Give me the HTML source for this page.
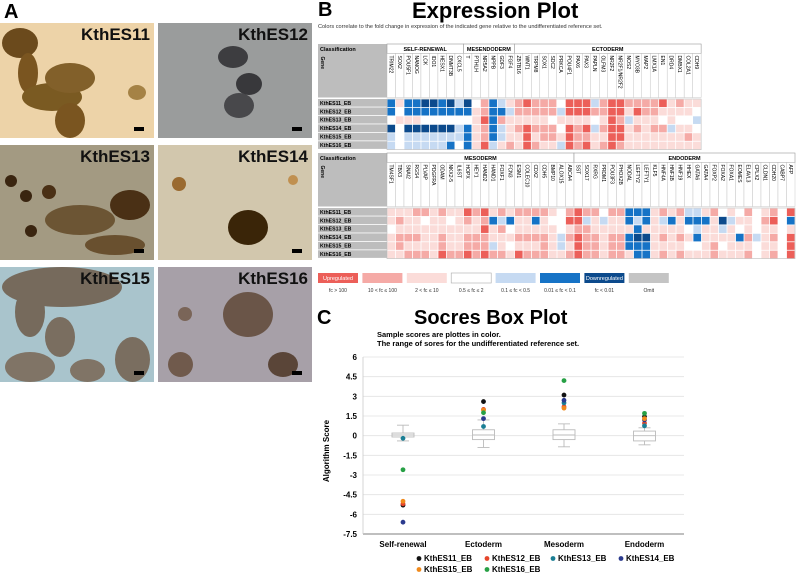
<!DOCTYPE html>
<html><head><meta charset="utf-8"><style>
body{margin:0;width:796px;height:577px;background:#fff;position:relative;overflow:hidden;font-family:"Liberation Sans",sans-serif}
.abs{position:absolute}
.tile{position:absolute;overflow:hidden}
.tl{position:absolute;right:4px;top:2px;font-weight:bold;font-size:17px;color:#111}
.bar{position:absolute;right:10px;bottom:7px;width:10px;height:4px;background:#000}
.blob{position:absolute;border-radius:50%}
</style></head><body>
<div class="abs" style="left:4px;top:1px;font-size:20px;font-weight:bold">A</div>
<div class="tile" style="left:0;top:23px;width:154px;height:115px;background:#edd3a8">
<div class="blob" style="left:2px;top:5px;width:36px;height:30px;background:#6b4a1c"></div>
<div class="blob" style="left:18px;top:30px;width:20px;height:40px;background:#7a5520"></div>
<div class="blob" style="left:22px;top:60px;width:60px;height:28px;background:#7a5a22"></div>
<div class="blob" style="left:45px;top:40px;width:50px;height:30px;background:#82602a"></div>
<div class="blob" style="left:55px;top:80px;width:30px;height:35px;background:#7a5520"></div>
<div class="blob" style="left:128px;top:62px;width:18px;height:15px;background:#a58245"></div>
<div class="tl">KthES11</div><div class="bar"></div></div>
<div class="tile" style="left:158px;top:23px;width:154px;height:115px;background:#9a9c9c">
<div class="blob" style="left:60px;top:23px;width:30px;height:22px;background:#3d3d40"></div>
<div class="blob" style="left:78px;top:50px;width:26px;height:22px;background:#38383b"></div>
<div class="blob" style="left:66px;top:70px;width:30px;height:25px;background:#48484b"></div>
<div class="tl">KthES12</div><div class="bar"></div></div>
<div class="tile" style="left:0;top:145px;width:154px;height:115px;background:#a39a82">
<div class="blob" style="left:5px;top:30px;width:12px;height:12px;background:#3a2510"></div>
<div class="blob" style="left:20px;top:45px;width:12px;height:12px;background:#3a2510"></div>
<div class="blob" style="left:42px;top:40px;width:14px;height:14px;background:#4a3015"></div>
<div class="blob" style="left:45px;top:60px;width:70px;height:30px;background:#5a3d1a;opacity:.75"></div>
<div class="blob" style="left:110px;top:45px;width:40px;height:30px;background:#4a3015"></div>
<div class="blob" style="left:25px;top:80px;width:12px;height:12px;background:#3a2510"></div>
<div class="blob" style="left:85px;top:90px;width:60px;height:20px;background:#5a3d1a;opacity:.8"></div>
<div class="tl">KthES13</div><div class="bar"></div></div>
<div class="tile" style="left:158px;top:145px;width:154px;height:115px;background:#d2c7ad">
<div class="blob" style="left:14px;top:32px;width:14px;height:14px;background:#9a6a30"></div>
<div class="blob" style="left:130px;top:30px;width:10px;height:10px;background:#c09050"></div>
<div class="blob" style="left:70px;top:65px;width:40px;height:35px;background:#3a2508"></div>
<div class="tl">KthES14</div><div class="bar"></div></div>
<div class="tile" style="left:0;top:267px;width:154px;height:115px;background:#a9c4cc">
<div class="blob" style="left:2px;top:0;width:120px;height:40px;background:#766a5c"></div>
<div class="blob" style="left:15px;top:20px;width:30px;height:50px;background:#766a5c"></div>
<div class="blob" style="left:45px;top:50px;width:30px;height:40px;background:#7a6e60"></div>
<div class="blob" style="left:5px;top:85px;width:50px;height:30px;background:#807466"></div>
<div class="blob" style="left:70px;top:92px;width:35px;height:23px;background:#807466"></div>
<div class="blob" style="left:115px;top:70px;width:35px;height:45px;background:#7a6e60"></div>
<div class="tl">KthES15</div><div class="bar"></div></div>
<div class="tile" style="left:158px;top:267px;width:154px;height:115px;background:#a7a0a8">
<div class="blob" style="left:65px;top:25px;width:50px;height:45px;background:#6a5548"></div>
<div class="blob" style="left:20px;top:40px;width:14px;height:14px;background:#7a6558"></div>
<div class="blob" style="left:10px;top:85px;width:25px;height:25px;background:#705a4c"></div>
<div class="blob" style="left:110px;top:85px;width:30px;height:25px;background:#5a4538"></div>
<div class="tl">KthES16</div><div class="bar"></div></div>

<div class="abs" style="left:318px;top:-1px;font-size:20px;font-weight:bold">B</div>
<div class="abs" style="left:412px;top:-2px;font-size:22px;font-weight:bold">Expression Plot</div>
<div class="abs" style="left:318px;top:24px;font-size:5.6px;color:#333;white-space:nowrap">Colors correlate to the fold change in expression of the indicated gene relative to the undifferentiated reference set.</div>
<svg id="hm" class="abs" style="left:0;top:0" width="796" height="300"></svg>

<div class="abs" style="left:317px;top:307px;font-size:20px;font-weight:bold">C</div>
<div class="abs" style="left:414px;top:307px;font-size:20px;font-weight:bold">Socres Box Plot</div>
<div class="abs" style="left:377px;top:330px;font-size:7.5px;font-weight:bold;line-height:9px">Sample scores are plottes in color.<br>The range of sores for the undifferentiated reference set.</div>
<svg id="bp" class="abs" style="left:0;top:300px" width="796" height="277"></svg>

<script>
const NS='http://www.w3.org/2000/svg';
function mk(p,t,a){const e=document.createElementNS(NS,t);for(const k in a)e.setAttribute(k,a[k]);p.appendChild(e);return e;}
// ---- heatmap data ----
const samples=['KthES11_EB','KthES12_EB','KthES13_EB','KthES14_EB','KthES15_EB','KthES16_EB'];
const topGroups=[['SELF-RENEWAL',9],['MESENDODERM',6],['ECTODERM',22]];
const topGenes=['TRIM22','SOX2','POU5F1','NANOG','LCK','IDO1','HESX1','DNMT3B','CXCL5','T','PTHLH','NR5A2','NPPB','GDF3','FGF4','ZBTB16','WNT1','TRPM8','SOX1','SDC2','PRKCA','POU4F1','PAX6','PAX3','PAPLN','OLFM3','NR2F2','NR2F1/NR2F2','NOS2','MYO3B','MAP2','LMX1A','EN1','DRD4','DMBX1','COL2A1','CDH9'];
const topLevels=[
[-2,1,-2,-2,-3,-3,-2,-3,-1,-3,0,2,-2,-1,1,2,3,2,2,2,0,3,3,3,-1,2,3,3,2,2,2,2,3,1,2,1,1],
[-2,0,-2,-2,-2,-2,-2,-2,-2,-2,1,2,-2,-2,-1,2,2,2,2,2,-1,3,3,3,2,2,3,3,1,3,2,2,1,1,1,1,0],
[0,1,1,1,0,0,0,0,0,0,1,3,-2,2,1,1,1,1,1,0,1,1,1,1,0,1,3,2,-1,1,1,1,0,1,0,0,-1],
[-3,0,-3,-3,-3,-3,-3,-3,-1,-2,1,2,-2,-1,1,2,3,2,2,2,0,3,2,3,-1,2,3,3,1,2,1,2,2,-1,1,1,0],
[-1,0,-1,-1,-1,-1,-1,-1,-1,-2,1,2,-2,-1,1,1,3,1,2,2,1,3,2,2,1,1,3,3,1,1,1,1,1,1,1,2,1],
[-1,0,-1,-1,-1,-1,-1,-2,0,-2,1,3,-1,1,2,1,3,2,1,1,-1,3,2,3,1,2,3,2,1,1,1,1,1,1,1,1,1]];
const botGroups=[['MESODERM',22],['ENDODERM',26]];
const botGenes=['TM4SF1','TBX3','SNAI2','RGS4','PLVAP','PDGFRA','ODAM','NKX2-5','IL6ST','HOPX','HEY1','HAND2','HAND1','FOXF1','FCN3','ESM1','COLEC10','CDX2','CDH5','BMP10','ALOX15','ABCA4','SST','SOX17','RXRG','PRDM1','POU3F3','PHOX2B','NODAL','LEFTY2','LEFTY1','KLF5','HNF4A','HNF1B','HNF19','HHEX','GATA6','GATA4','FOXP2','FOXA2','FOXA1','EOMES','ELAVL3','CPLX2','CLDN1','CDH20','CABP7','AFP'];
const botLevels=[
[1,1,1,2,2,1,2,1,1,3,2,3,1,2,1,2,2,2,2,1,0,2,3,2,2,0,2,2,-2,-2,-2,1,2,1,2,-1,-1,1,2,0,1,0,2,0,1,2,0,3],
[1,2,1,1,0,1,1,0,1,2,1,2,-2,-1,-2,1,1,-2,1,0,0,3,3,-1,1,-1,1,1,-2,-1,-2,1,-1,-2,1,-2,-2,-2,1,-3,-1,1,1,0,2,3,0,-2],
[0,1,1,1,1,1,1,1,1,1,1,3,1,2,0,1,1,1,1,1,0,1,2,2,1,1,1,1,1,-2,1,1,1,1,1,0,-1,1,1,-1,1,0,1,0,1,1,0,1],
[1,2,2,2,1,1,2,1,1,2,2,2,1,1,1,2,2,2,2,1,-1,2,3,2,2,1,2,2,-2,-3,-3,1,2,1,2,1,-2,1,1,1,1,-2,2,-1,1,2,0,3],
[1,2,1,1,1,1,2,1,1,2,2,2,-1,1,0,1,1,1,2,1,-1,1,3,2,2,1,2,2,-2,-2,-2,1,1,1,1,0,0,1,2,0,1,1,1,0,1,1,0,3],
[1,1,2,2,2,1,3,2,2,3,2,3,2,2,1,3,2,2,2,1,1,2,3,2,2,1,2,2,1,-2,-2,1,2,1,2,1,1,1,2,1,1,1,2,0,1,2,0,3]];
const legendLabels=['fc > 100','10 < fc ≤ 100','2 < fc ≤ 10','0.5 ≤ fc ≤ 2','0.1 ≤ fc < 0.5','0.01 ≤ fc < 0.1','fc < 0.01','Omit'];
const legendLevels=[3,2,1,0,-1,-2,-3,9];
const COL={'3':'#ec5f59','2':'#f5aaa6','1':'#fbdcd9','0':'#ffffff','-1':'#c6daf2','-2':'#1673c6','-3':'#0c4a8c','9':'#c4c4c4'};
const hm=document.getElementById('hm');
function table(y0,genes,groups,levels,cw,name){
  const x0=318,lw=69,gx=387,hH=9.5,gH=44,rH=8.45,W=genes.length*cw;
  const g=mk(hm,'g',{});
  
  
  mk(g,'rect',{x:x0,y:y0,width:lw,height:hH,fill:'#bdbdbd'});
  mk(g,'rect',{x:x0,y:y0+hH,width:lw,height:gH,fill:'#bdbdbd'});
  const t1=mk(g,'text',{x:x0+2,y:y0+7,'font-size':5.5,'font-weight':'bold'});t1.textContent='Classification';
  const t2=mk(g,'text',{x:x0+3,y:y0+hH+3,'font-size':5,'font-weight':'bold',transform:`rotate(90 ${x0+3} ${y0+hH+3})`});t2.textContent='Gene';
  let gi=0;
  groups.forEach(([n,c])=>{const x=gx+gi*cw;
    mk(g,'rect',{x:x,y:y0,width:c*cw,height:hH,fill:'#fff',stroke:'#999','stroke-width':0.6});
    const t=mk(g,'text',{x:x+c*cw/2,y:y0+7,'font-size':5.5,'font-weight':'bold','text-anchor':'middle'});t.textContent=n;
    gi+=c;});
  genes.forEach((gn,i)=>{const x=gx+i*cw;
    mk(g,'rect',{x:x,y:y0+hH,width:cw,height:gH,fill:'#fff',stroke:'#bbb','stroke-width':0.4});
    const t=mk(g,'text',{x:x+cw/2-1.8,y:y0+hH+2,'font-size':5,transform:`rotate(90 ${x+cw/2-1.8} ${y0+hH+2})`});t.textContent=gn;});
  const ry=y0+hH+gH+1.5;
  samples.forEach((s,r)=>{
    mk(g,'rect',{x:x0,y:ry+r*rH,width:lw,height:rH-0.8,fill:'#bdbdbd'});
    const t=mk(g,'text',{x:x0+2,y:ry+r*rH+5.8,'font-size':5.2,'font-weight':'bold'});t.textContent=s;
    levels[r].forEach((v,i)=>{
      const c=mk(g,'rect',{x:gx+i*cw+0.4,y:ry+r*rH+0.4,width:cw-0.8,height:rH-0.8,fill:COL[v]});
      
      
    });});
  mk(g,'rect',{x:gx,y:ry,width:W,height:rH*6,fill:'none',stroke:'#bbb','stroke-width':0.6});
}
table(44,topGenes,topGroups,topLevels,8.49,'heatmap-top');
table(153,botGenes,botGroups,botLevels,8.5,'heatmap-bottom');
legendLabels.forEach((l,i)=>{const x=318+i*44.4;
  const g=mk(hm,'g',{});
  
  
  mk(g,'rect',{x:x,y:273,width:40,height:10,fill:COL[legendLevels[i]],stroke:legendLevels[i]==0?'#aaa':'none','stroke-width':0.6});
  if(i==0||i==6){const t=mk(g,'text',{x:x+20,y:280,'font-size':5.5,fill:'#fff','text-anchor':'middle'});t.textContent=i==0?'Upregulated':'Downregulated';}
  const t=mk(g,'text',{x:x+20,y:292,'font-size':5,'text-anchor':'middle',fill:'#333'});t.textContent=l;});

// ---- box plot data ----
const categories=['Self-renewal','Ectoderm','Mesoderm','Endoderm'];
const yTicks=[6,4.5,3,1.5,0,-1.5,-3,-4.5,-6,-7.5];
const yTickLabels=['6','4.5','3','1.5','0','-1.5','-3','-4.5','-6','-7.5'];
const boxLow=[-0.4,-0.9,-0.85,-0.7];
const boxQ1=[-0.1,-0.3,-0.3,-0.4];
const boxMed=[0.05,0.05,0.05,0];
const boxQ3=[0.2,0.45,0.45,0.35];
const boxHigh=[0.8,1.2,0.9,0.6];
const seriesNames=['KthES11_EB','KthES12_EB','KthES13_EB','KthES14_EB','KthES15_EB','KthES16_EB'];
const seriesColors=['#111111','#e5452b','#1b7e94','#2b3a8e','#f08a1c','#27a045'];
const es11=[-5.3,2.6,3.1,1.45];
const es12=[-5.2,2.0,2.2,0.95];
const es13=[-0.2,0.7,2.5,0.75];
const es14=[-6.6,1.3,2.7,1.2];
const es15=[-5.0,1.95,2.1,1.3];
const es16=[-2.6,1.75,4.2,1.7];
const seriesValues=[es11,es12,es13,es14,es15,es16];
const bp=document.getElementById('bp');
const X0=363,X1=684,YT=57,YB=234;
const y=v=>YT+(6-v)/(13.5)*(YB-YT);
const xc=i=>X0+40+i*80.5;
yTicks.forEach((v,i)=>{
  const l=mk(bp,'line',{x1:X0,x2:X1,y1:y(v),y2:y(v),stroke:i==yTicks.length-1?'#999':'#e2e2e2','stroke-width':i==yTicks.length-1?1.2:0.8});
  
  
  const t=mk(bp,'text',{x:X0-6,y:y(v)+3,'font-size':8,'font-weight':'bold','text-anchor':'end'});t.textContent=yTickLabels[i];
  
  
});
mk(bp,'line',{x1:X0,x2:X0,y1:YT,y2:YB,stroke:'#ccc','stroke-width':0.8});
const yl=mk(bp,'text',{x:329,y:151,'font-size':8,'font-weight':'bold','text-anchor':'middle',transform:'rotate(-90 329 151)'});yl.textContent='Algorithm Score';


categories.forEach((c,i)=>{const x=xc(i),bw=22;
  const g=mk(bp,'g',{stroke:'#bbb','stroke-width':0.9,fill:'#fff'});
  
  
  mk(g,'line',{x1:x,x2:x,y1:y(boxHigh[i]),y2:y(boxQ3[i])});
  mk(g,'line',{x1:x,x2:x,y1:y(boxQ1[i]),y2:y(boxLow[i])});
  mk(g,'line',{x1:x-6,x2:x+6,y1:y(boxHigh[i]),y2:y(boxHigh[i])});
  mk(g,'line',{x1:x-6,x2:x+6,y1:y(boxLow[i]),y2:y(boxLow[i])});
  mk(g,'rect',{x:x-bw/2,y:y(boxQ3[i]),width:bw,height:y(boxQ1[i])-y(boxQ3[i])});
  mk(g,'line',{x1:x-bw/2,x2:x+bw/2,y1:y(boxMed[i]),y2:y(boxMed[i])});
  const t=mk(bp,'text',{x:x,y:247,'font-size':8,'font-weight':'bold','text-anchor':'middle'});t.textContent=c;
  
  
});
seriesValues.forEach((arr,s)=>arr.forEach((v,i)=>{
  const p=mk(bp,'circle',{cx:xc(i),cy:y(v),r:2.4,fill:seriesColors[s]});
  
  
}));
const legX=[419,487,553,621,419,487],legY=[261,261,261,261,272,272];
seriesNames.forEach((n,s)=>{
  const g=mk(bp,'g',{});
  
  
  mk(g,'circle',{cx:legX[s],cy:legY[s]-2.5,r:2.4,fill:seriesColors[s]});
  const t=mk(g,'text',{x:legX[s]+5,y:legY[s],'font-size':8,'font-weight':'bold'});t.textContent=n;
});
</script>
</body></html>
